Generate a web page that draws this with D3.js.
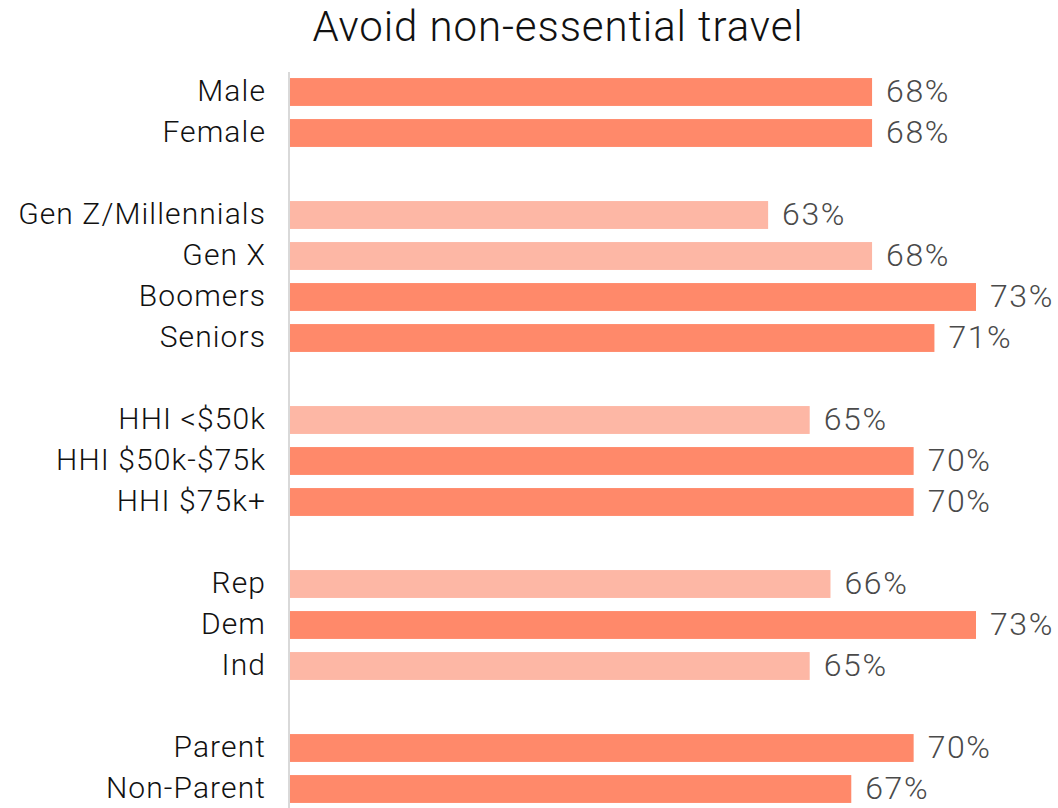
<!DOCTYPE html>
<html>
<head>
<meta charset="utf-8">
<script src="https://cdn.jsdelivr.net/npm/d3@7"></script>
<style>
  html, body { margin: 0; padding: 0; background: #fff; }
  svg { display: block; }
  text { font-family: "Roboto", "Liberation Sans", sans-serif; font-weight: 300; }
</style>
</head>
<body>
<svg id="chart" width="1058" height="808"></svg>
<script>
// Share of each group that avoids non-essential travel
const categories = ["Male", "Female", "Gen Z/Millennials", "Gen X", "Boomers", "Seniors",
  "HHI <$50k", "HHI $50k-$75k", "HHI $75k+", "Rep", "Dem", "Ind", "Parent", "Non-Parent"];
const values = [68, 68, 63, 68, 73, 71, 65, 70, 70, 66, 73, 65, 70, 67];
// demographic block each row belongs to (blocks are separated by an empty row)
const groups = [0, 0, 1, 1, 1, 1, 2, 2, 2, 3, 3, 3, 4, 4];
// rows drawn in the stronger shade
const strong = [true, true, false, false, true, true, false, true, true, false, true, false, true, true];
const title = "Avoid non-essential travel";

const svg = d3.select("#chart");
const W = 1058, H = 808;

const slots = categories.map((c, i) => i + groups[i]);
const nSlots = d3.max(slots) + 1;

const y = d3.scaleBand()
  .domain(d3.range(nSlots))
  .range([71.5, 809.5])
  .paddingInner(0.32)
  .paddingOuter(0.16);

const x = d3.scaleLinear().domain([40, 73]).range([290, 976]);

const color = d3.scaleOrdinal().domain([true, false]).range(["#ff896a", "#fdb7a5"]);

svg.append("text")
  .attr("x", 558)
  .attr("y", 41)
  .attr("text-anchor", "middle")
  .attr("font-size", 42)
  .attr("letter-spacing", 0.9)
  .attr("fill", "#111")
  .text(title);

const rows = svg.append("g").selectAll("g")
  .data(categories.map((c, i) => ({ name: c, value: values[i], slot: slots[i], strong: strong[i] })))
  .join("g");

rows.append("rect")
  .attr("x", x(40))
  .attr("y", d => y(d.slot))
  .attr("width", d => x(d.value) - x(40))
  .attr("height", y.bandwidth())
  .attr("fill", d => color(d.strong));

rows.append("text")
  .attr("x", 266)
  .attr("y", d => y(d.slot) + y.bandwidth() / 2 + 9)
  .attr("text-anchor", "end")
  .attr("font-size", 30)
  .attr("letter-spacing", 1.1)
  .attr("fill", "#111")
  .text(d => d.name);

rows.append("text")
  .attr("x", d => x(d.value) + 14)
  .attr("y", d => y(d.slot) + y.bandwidth() / 2 + 10)
  .attr("font-size", 32)
  .attr("letter-spacing", 1.6)
  .attr("fill", "#4a4a4a")
  .text(d => d.value + "%");

// vertical baseline
svg.append("line")
  .attr("x1", 289).attr("x2", 289)
  .attr("y1", 72).attr("y2", H)
  .attr("stroke", "#d9d9d9")
  .attr("stroke-width", 2);
</script>
</body>
</html>
